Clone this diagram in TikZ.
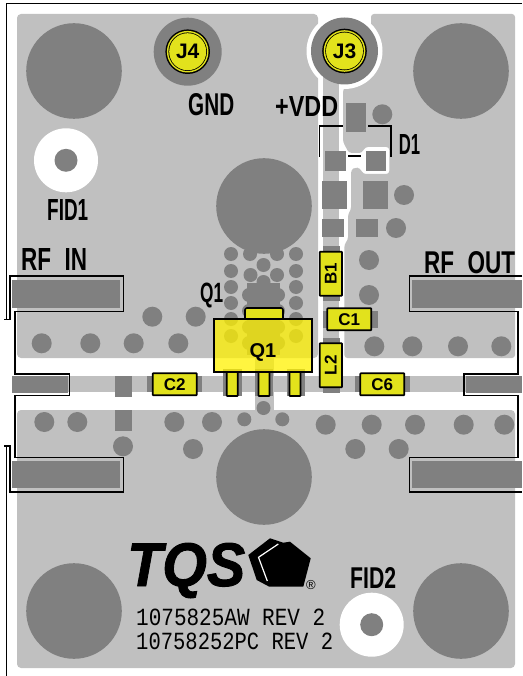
\documentclass[tikz,border=0pt]{standalone}
\usepackage{fontspec}
\setmainfont{Liberation Sans}
\newfontfamily\monof{Liberation Mono}
\newfontfamily\logof[FakeBold=1.5]{Liberation Sans Bold Italic}
\newcommand{\fitbox}[3]{\resizebox{#1pt}{#2pt}{#3}}
\definecolor{brd}{HTML}{C0C0C0}
\definecolor{dk}{HTML}{808080}
\definecolor{yel}{HTML}{E2E21C}
\tikzset{
  padfill/.style={fill=dk,draw=none},
  partbox/.style={fill=yel,draw=black,line width=1.7pt,rounded corners=0.6pt},
  partlabel/.style={inner sep=0pt,font=\fontsize{17}{17}\selectfont\bfseries},
  silk/.style={inner sep=0pt,anchor=base west,font=\bfseries,text=black},
  finetext/.style={inner sep=0pt,anchor=base west,font=\monof,text=black},
  outline/.style={draw=black,line width=1.6pt},
  thinsilk/.style={draw=black,line width=1.1pt}
}
\begin{document}
\begin{tikzpicture}[x=1pt,y=-1pt]
\useasboundingbox (0,0) rectangle (522,676);
\fill[white] (0,0) rectangle (522,676);
% board copper/mask areas
\fill[brd,rounded corners=4pt] (17,14) rectangle (318,358);
\fill[brd,rounded corners=4pt] (17,410) rectangle (515,668);
\fill[brd,rounded corners=3pt] (371,14) -- (515,14) -- (515,358) -- (344.4,358) -- (344.4,244) -- (348,240) -- (348,214) -- (351,210) -- (351,170) -- (355,167.5) -- (360,168) -- (363,174) -- (389.3,174) -- (389.3,147) -- (365,147) -- (362,153) -- (349,153) -- (343,142) -- (343,90) -- (355,70) -- (371,30) -- cycle;
% clearance round J3
\fill[white] (344.5,51) circle (38pt);
% traces
\fill[brd] (322.7,70) rectangle (338.7,376);
\fill[brd] (12,376) rectangle (515,392.3);
\fill[brd] (254.5,358) rectangle (273.5,411);
% big plated holes
\foreach \cx/\cy in {74/71,461/71,74/611,461/611,264/206,264/477}
  \fill[dk] (\cx,\cy) circle (47.8pt);
% fiducials
\foreach \cx/\cy in {66/160.3,371.7/624.7}{
  \fill[white] (\cx,\cy) circle (32pt);
  \fill[dk] (\cx,\cy) circle (11.5pt);
}
% vias r=10
\foreach \cx/\cy in {41.7/343.3,90.3/343.3,133.7/343.3,178.3/343.3,152.3/316.7,195.7/316.7,
  44.3/422,77.3/422,174.3/422,212/422,123/446.3,193/449,
  369/260,369/295,374.3/346.3,412.3/346.3,458/346.3,501.3/346.3,
  325.7/424.7,371.7/424.7,415/424.7,463.7/424.7,504.3/424.7,355.3/449,398.7/449,
  382.3/114.3,404/195,396/228}
  \fill[dk] (\cx,\cy) circle (10pt);
% small vias
\foreach \cx/\cy in {244.3/419.3,282.3/419.3,263.5/408,
  231/254,231/271,231/287,231/303,231/319,231/336,
  296/254,296/271,296/287,296/303,296/319,296/336,
  250/254,277/254,263.5/265,250.5/275,277/275,263.5/282,
  249/295,278/295,249/311,278/311,249/327,278/327,249/343,278/343}
  \fill[dk] (\cx,\cy) circle (7pt);
% Q1 centre pad
\fill[dk] (247,283) rectangle (280,355);
% rectangular pads
\fill[padfill] (12,280) rectangle (120,308.3);
\fill[padfill] (12,461) rectangle (120,488.3);
\fill[padfill] (12,376) rectangle (67.7,393.3);
\fill[padfill] (411.7,280) rectangle (522,308.3);
\fill[padfill] (411.7,461) rectangle (522,488.3);
\fill[padfill] (465.7,376) rectangle (522,393.3);
\fill[padfill] (114.7,376) rectangle (132,396.7);
\fill[padfill] (114.7,410) rectangle (132,431);
\fill[padfill] (146.7,376) rectangle (202,392.3);
\fill[padfill] (355,376) rectangle (410,392.3);
\fill[padfill] (322.7,337.7) rectangle (340,393.3);
\fill[padfill] (322.7,246) rectangle (340,301);
\fill[padfill] (322.7,311) rectangle (377.7,327.7);
\fill[padfill] (346,103.3) rectangle (366,131.7);
\fill[padfill] (325,151) rectangle (345.7,171.3);
\fill[padfill] (366,151) rectangle (386.3,171.3);
\fill[padfill] (322.3,181) rectangle (347,209.3);
\fill[padfill] (363,181) rectangle (388.3,209.3);
\fill[padfill] (322.3,219) rectangle (343.7,236.7);
\fill[padfill] (356.3,219) rectangle (377.7,236.7);
\fill[padfill] (223,369) rectangle (241.7,396);
\fill[padfill] (255,369) rectangle (273,396);
\fill[padfill] (287,369) rectangle (305,396);
% connectors J4, J3
\fill[dk] (187.7,51.7) circle (34pt);
\fill[dk] (344.5,51) circle (33.5pt);
\foreach \cx/\cy/\nm/\lbl in {187.7/51.7/j4/J4,344.5/51/j3/J3}{
  \fill[black] (\cx,\cy) circle (22.3pt);
  \fill[yel] (\cx,\cy) circle (20.8pt);
  \fill[black] (\cx,\cy) circle (19.3pt);
  \fill[yel] (\cx,\cy) circle (18.5pt);
  \node[inner sep=0pt,font=\fontsize{21}{21}\selectfont\bfseries] (\nm) at (\cx,\cy) {\lbl};
}
% Q1
\draw[partbox] (226.7,372) rectangle (237.7,396);
\draw[partbox] (258.5,372) rectangle (269.5,396);
\draw[partbox] (289.5,372) rectangle (300.5,396);
\draw[outline,fill=yel,rounded corners=2pt] (245,319) -- (245,308) -- (283,308) -- (283,319);
\fill[yellow,opacity=.75] (214,319) rectangle (312,372);
\draw[outline] (214,319) rectangle (312,372);
\node[inner sep=0pt,font=\fontsize{20}{20}\selectfont\bfseries] (q1body) at (263,352) {Q1};
% passive parts
\draw[partbox] (152.7,373.3) rectangle (196.7,395.3);
\node[partlabel] (c2) at (174.7,384.3) {C2};
\draw[partbox] (360.3,373.3) rectangle (404.3,395.3);
\node[partlabel] (c6) at (382.3,384.3) {C6};
\draw[partbox] (327.3,308.3) rectangle (371.3,330.3);
\node[partlabel] (c1) at (349.3,319.3) {C1};
\draw[partbox] (319.7,343.3) rectangle (342,387.3);
\node[partlabel,rotate=90] (l2) at (330.8,365.3) {L2};
\draw[partbox] (319.7,251.7) rectangle (342,295.7);
\node[partlabel,rotate=90] (b1) at (330.8,273.7) {B1};
% outlines of the launch areas
\draw[outline] (4,319.3) -- (10,319.3) -- (10,276) -- (123.3,276) -- (123.3,311.6) -- (14.8,311.6) -- (14.8,374) -- (69.3,374) -- (69.3,395.3) -- (14.8,395.3) -- (14.8,457.3) -- (123.3,457.3) -- (123.3,492) -- (10,492) -- (10,446) -- (4,446);
\draw[outline] (522,276) -- (409.3,276) -- (409.3,311.6) -- (518,311.6) -- (518,374) -- (463.7,374) -- (463.7,395.3) -- (518,395.3) -- (518,457.3) -- (409.3,457.3) -- (409.3,492) -- (522,492);
% frame
\draw[thinsilk] (522,3.3) -- (6.3,3.3) -- (6.3,319.3);
\draw[thinsilk] (6.3,446) -- (6.3,676);
% D1 silk
\draw[thinsilk] (319.7,156.7) -- (319.7,126) -- (342.7,126);
\draw[thinsilk] (368.3,126) -- (391,126) -- (391,156.7);
\draw[thinsilk] (348.3,156) -- (361,156);
% silk labels
\node[silk] (gnd) at (188,116) {\fitbox{46}{22}{GND}};
\node[silk] (vdd) at (275,117) {\fitbox{63}{20}{+VDD}};
\node[silk] (d1) at (398.7,155) {\fitbox{21.3}{20}{D1}};
\node[silk] (fid1) at (47,221) {\fitbox{41}{21}{FID1}};
\node[silk] (fid2) at (350,588) {\fitbox{46}{21}{FID2}};
\node[silk] (rfin) at (21,270) {\fitbox{66}{22}{RF\hspace{.6em}IN}};
\node[silk] (rfout) at (424,273) {\fitbox{91}{22}{RF\hspace{.6em}OUT}};
\node[silk] (q1) at (200,302) {\fitbox{23}{19.5}{Q1}};
\node[finetext] (line1) at (136,625.5) {\fitbox{189}{16.5}{1075825AW REV 2}};
\node[finetext] (line2) at (136,649) {\fitbox{197}{16.5}{10758252PC REV 2}};
% logo
\node[inner sep=0pt,anchor=base west,font=\logof] (tqs) at (127,586) {\fitbox{118}{43}{TQS}};
\fill[black] (248.3,555) -- (270,538.3) -- (283.3,542.7) -- (290,541.7) -- (310.7,558.3) -- (303.3,586.7) -- (269.3,586.7) -- (256.7,580) -- cycle;
\draw[white,line width=1.2pt] (278.3,544) -- (258.5,557.3) -- (267.3,581);
\node[inner sep=0pt,font=\fontsize{13}{13}\selectfont] (reg) at (311,585) {®};
\end{tikzpicture}
\end{document}
